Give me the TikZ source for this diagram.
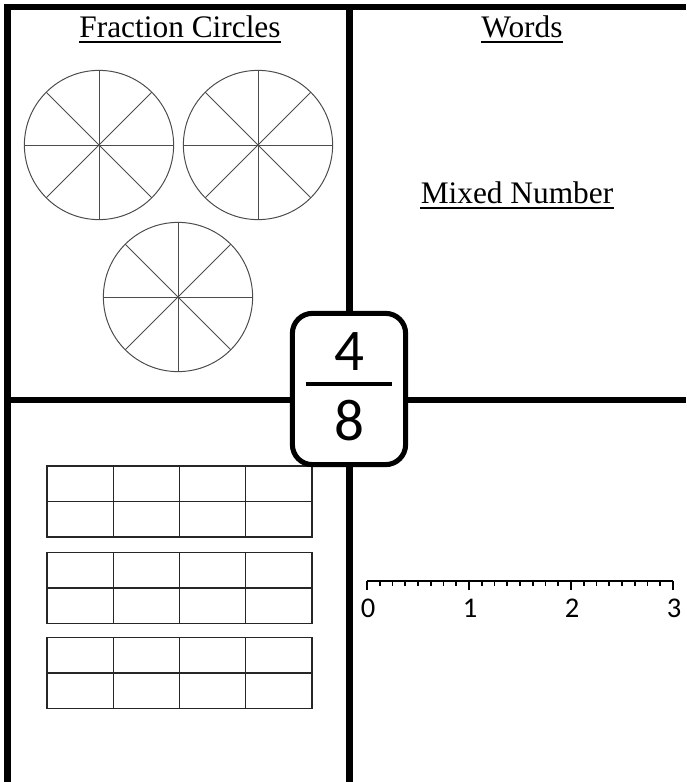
\documentclass[tikz,border=0pt]{standalone}
\usepackage{fontspec}
\setmainfont{Liberation Serif}
\newfontfamily\calibri{Carlito}
\usepackage{tikz}
\usetikzlibrary{calc, positioning}

\begin{document}
\begin{tikzpicture}[x=0.025cm,y=-0.025cm,
	frame/.style={line width=4.3pt},
	title/.style={font=\fontsize{22.3}{26}\selectfont,inner sep=0pt,anchor=base},
	uline/.style={line width=1.4pt},
	pie/.style={circle,draw=black!70,line width=0.7pt,minimum size=3.73cm,inner sep=0pt},
	spoke/.style={draw=black!70,line width=0.7pt},
	cell/.style={draw=black!85,line width=0.75pt},
	fracbox/.style={draw,line width=3.6pt,rounded corners=0.5cm,fill=white,minimum width=2.83cm,minimum height=3.78cm},
	digit/.style={font=\calibri\fontsize{42}{46}\selectfont,inner sep=0pt,anchor=base},
	nline/.style={line width=1.4pt},
	numlabel/.style={font=\calibri\fontsize{20.3}{24}\selectfont,inner sep=0pt,anchor=base}]
\useasboundingbox (0,0) rectangle (686,782);
% the four quarters
\draw[frame] (7.5,782) -- (7.5,7) -- (686,7);
\draw[frame] (349.5,7) -- (349.5,782);
\draw[frame] (7.5,400) -- (686,400);
% headings
\node[title] (fc) at (180,37.5) {Fraction Circles};
\node[title] (words) at (522,37.5) {Words};
\node[title] (mixed) at (517,203.5) {Mixed Number};
\draw[uline] ([yshift=-0.11cm]fc.base west) -- ([yshift=-0.11cm]fc.base east);
\draw[uline] ([yshift=-0.11cm]words.base west) -- ([yshift=-0.11cm]words.base east);
\draw[uline] ([yshift=-0.11cm]mixed.base west) -- ([yshift=-0.11cm]mixed.base east);
% fraction circles
\node[pie] (c1) at (99,145) {};
\node[pie] (c2) at (258,145) {};
\node[pie] (c3) at (178,297) {};
\foreach \c in {c1,c2,c3}
	\foreach \a in {0,45,90,135}
		\draw[spoke] (\c.\a) -- (\c.\a+180);
% tape diagrams
\foreach \top in {466,552.5,637.5}{
	\draw[cell] (47,\top) rectangle (312,\top+71);
	\draw[cell] (47,\top+35.5) -- (312,\top+35.5);
	\foreach \i in {1,2,3}
		\draw[cell] (47+\i*66.25,\top) -- (47+\i*66.25,\top+71);
}
% number line
\coordinate (n0) at (367,581);
\coordinate (n3) at (673,581);
\draw[nline] (n0) -- (n3);
\foreach \i in {0,...,24}{
	\pgfmathsetmacro{\len}{ifthenelse(mod(\i,8)==0,8.5,4.5)}
	\draw[nline] ($(n0)!\i/24!(n3)$) -- ++(0,\len);
}
\foreach \k in {0,1,2,3}
	\node[numlabel] (lab\k) at ($(n0)!\k/3!(n3)+(1,36)$) {\k};
% the fraction
\node[fracbox] (box) at (349,389) {};
\node[digit] (num) at (349,370) {4};
\node[digit] (den) at (349,440) {8};
\draw[line width=3.2pt] ($(box.west)+(16,-5)$) -- ($(box.east)+(-16,-5)$);
\end{tikzpicture}
\end{document}
